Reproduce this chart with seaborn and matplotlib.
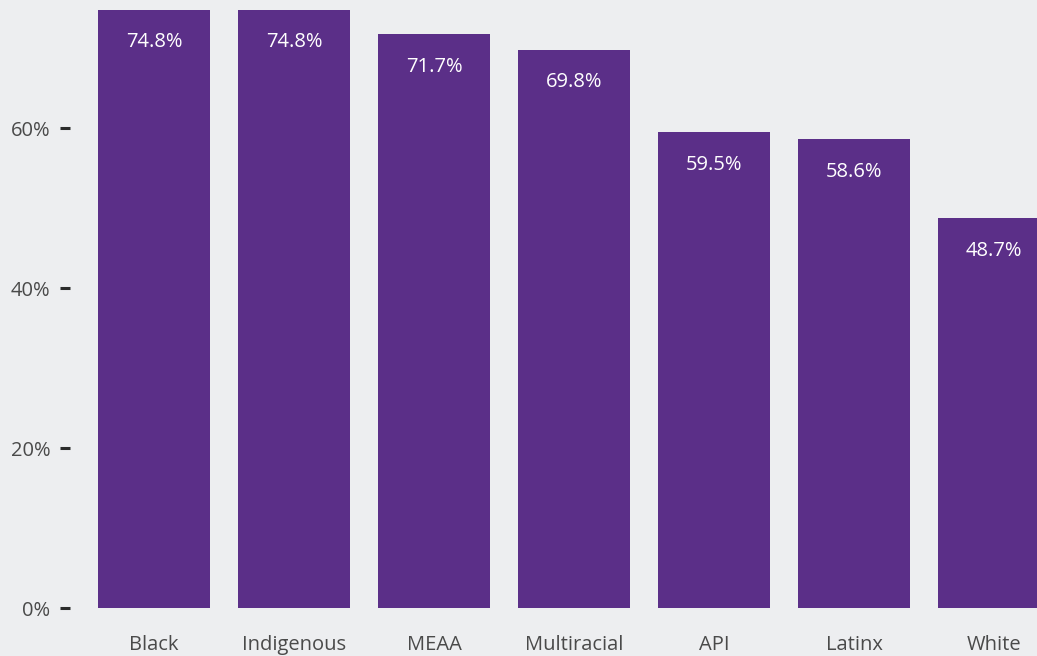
import pandas as pd
import matplotlib.pyplot as plt
import seaborn as sns

groups = ["Black", "Indigenous", "MEAA", "Multiracial", "API", "Latinx", "White"]
shares = [74.8, 74.8, 71.7, 69.8, 59.5, 58.6, 48.7]
yticks = [0, 20, 40, 60]

df = pd.DataFrame({"group": groups, "share": shares})

bg = "#edeef0"
purple = "#5b2f88"
grey = "#4a4a4a"

sns.set_style("white", {"axes.facecolor": bg, "figure.facecolor": bg})
plt.rcParams["font.family"] = ["Open Sans", "DejaVu Sans"]

fig = plt.figure(figsize=(10.37, 6.56), dpi=100)
ax = fig.add_axes([70 / 1037, 48 / 656, 967 / 1037, 608 / 656])

sns.barplot(data=df, x="group", y="share", color=purple, saturation=1, width=0.8,
            linewidth=0, ax=ax)

# value labels inside the bar tops
for i, v in enumerate(shares):
    ax.text(i, v - 4.1, f"{v:.1f}%", ha="center", va="center", color="white", fontsize=14.5)

ax.set_xlim(-0.6, 6.307)
ax.set_ylim(0, 76)
ax.set_yticks(yticks)
ax.set_yticklabels([f"{t}%" for t in yticks])
ax.set_xlabel("")
ax.set_ylabel("")
sns.despine(ax=ax, left=True, bottom=True, top=True, right=True)
ax.tick_params(axis="y", length=7, width=2.2, color="#2b2b2b", direction="out",
               pad=7, labelsize=14.5, labelcolor=grey, left=True)
ax.tick_params(axis="x", length=0, pad=19.5, labelsize=14.5, labelcolor=grey)

fig.savefig("out.png", dpi=100, facecolor=bg)
